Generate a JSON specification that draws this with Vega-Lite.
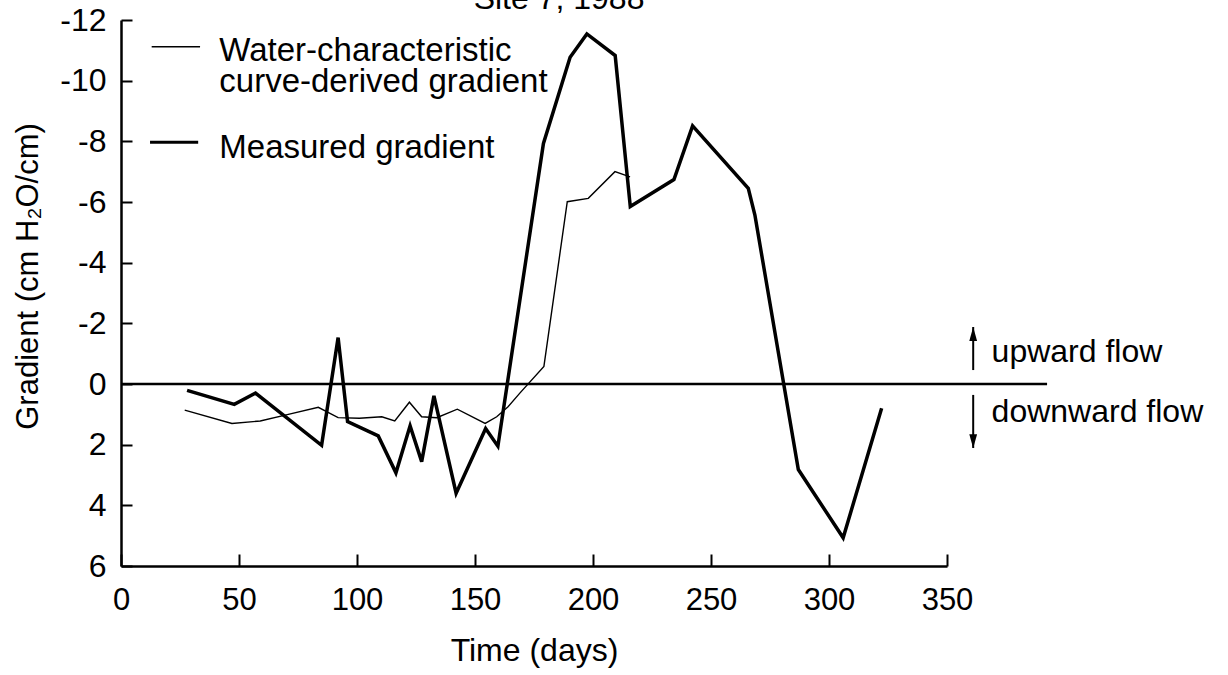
{
  "$schema": "https://vega.github.io/schema/vega-lite/v6.json",
  "width": 826,
  "height": 546,
  "autosize": {"type": "none"},
  "padding": {"left": 121, "top": 20, "right": 281, "bottom": 109},
  "background": "white",
  "config": {
    "view": {"stroke": null},
    "font": "Liberation Sans",
    "axis": {
      "domainColor": "black", "domainWidth": 2.5,
      "tickColor": "black", "tickWidth": 2,
      "labelColor": "black", "labelFontSize": 31, "labelFont": "Liberation Sans",
      "labelFlush": false, "labelOverlap": false,
      "titleFont": "Liberation Sans", "titleFontWeight": "normal", "titleColor": "black", "titleFontSize": 31,
      "grid": false
    }
  },
  "resolve": {"axis": {"x": "independent", "y": "independent"}},
  "datasets": {
    "series": [
      {"s": "meas", "day": 28, "g": 0.21},
      {"s": "meas", "day": 48, "g": 0.67},
      {"s": "meas", "day": 57, "g": 0.30},
      {"s": "meas", "day": 85, "g": 2.02},
      {"s": "meas", "day": 92, "g": -1.53},
      {"s": "meas", "day": 96, "g": 1.24},
      {"s": "meas", "day": 109, "g": 1.71},
      {"s": "meas", "day": 116.5, "g": 2.93},
      {"s": "meas", "day": 122.5, "g": 1.38},
      {"s": "meas", "day": 127.4, "g": 2.56},
      {"s": "meas", "day": 132.6, "g": 0.39},
      {"s": "meas", "day": 142, "g": 3.6},
      {"s": "meas", "day": 154.5, "g": 1.47},
      {"s": "meas", "day": 159.7, "g": 2.05},
      {"s": "meas", "day": 179, "g": -7.93},
      {"s": "meas", "day": 190.3, "g": -10.77},
      {"s": "meas", "day": 197.4, "g": -11.54},
      {"s": "meas", "day": 209.4, "g": -10.83},
      {"s": "meas", "day": 215.8, "g": -5.85},
      {"s": "meas", "day": 234.3, "g": -6.74},
      {"s": "meas", "day": 242.2, "g": -8.51},
      {"s": "meas", "day": 265.8, "g": -6.45},
      {"s": "meas", "day": 268.6, "g": -5.57},
      {"s": "meas", "day": 287, "g": 2.82},
      {"s": "meas", "day": 306, "g": 5.07},
      {"s": "meas", "day": 322.3, "g": 0.8},
      {"s": "wc", "day": 27, "g": 0.86},
      {"s": "wc", "day": 47, "g": 1.3},
      {"s": "wc", "day": 59, "g": 1.22},
      {"s": "wc", "day": 70, "g": 1.02},
      {"s": "wc", "day": 83.6, "g": 0.77},
      {"s": "wc", "day": 92, "g": 1.11},
      {"s": "wc", "day": 101, "g": 1.13},
      {"s": "wc", "day": 110.5, "g": 1.08},
      {"s": "wc", "day": 116, "g": 1.22},
      {"s": "wc", "day": 122.2, "g": 0.6},
      {"s": "wc", "day": 127.4, "g": 1.08},
      {"s": "wc", "day": 133.8, "g": 1.11},
      {"s": "wc", "day": 142.5, "g": 0.83},
      {"s": "wc", "day": 154.3, "g": 1.3},
      {"s": "wc", "day": 159.2, "g": 1.08},
      {"s": "wc", "day": 164, "g": 0.75},
      {"s": "wc", "day": 169, "g": 0.3},
      {"s": "wc", "day": 179.2, "g": -0.58},
      {"s": "wc", "day": 189.1, "g": -6.01},
      {"s": "wc", "day": 198, "g": -6.12},
      {"s": "wc", "day": 209.3, "g": -7.0},
      {"s": "wc", "day": 215.7, "g": -6.83}
    ],
    "legendLines": [
      {"s": "wc", "day": 13, "g": -11.12},
      {"s": "wc", "day": 33.5, "g": -11.12},
      {"s": "meas", "day": 12.3, "g": -7.97},
      {"s": "meas", "day": 32.7, "g": -7.97}
    ],
    "legendLabels": [
      {"day": 41.65, "g": -10.65, "t": "Water-characteristic"},
      {"day": 41.65, "g": -9.64, "t": "curve-derived gradient"},
      {"day": 41.65, "g": -7.44, "t": "Measured gradient"}
    ],
    "flowLabels": [
      {"day": 368.9, "g": -0.73, "t": "upward flow"},
      {"day": 368.9, "g": 1.25, "t": "downward flow"}
    ],
    "titleRow": [
      {"day": 185.6, "g": -12.36, "t": "Site 7, 1988"}
    ],
    "zeroLine": [
      {"day": 0, "day2": 392.4, "g": 0}
    ],
    "arrowShafts": [
      {"day": 361.1, "g": -1.88, "g2": -0.46},
      {"day": 361.1, "g": 0.36, "g2": 2.11}
    ],
    "arrowHeadsUp": [
      {"day": 361.1, "g": -1.59}
    ],
    "arrowHeadsDown": [
      {"day": 361.1, "g": 1.83}
    ]
  },
  "layer": [
    {
      "data": {"name": "zeroLine"},
      "mark": {"type": "rule", "color": "black", "strokeWidth": 2.5},
      "encoding": {
        "x": {
          "field": "day", "type": "quantitative",
          "scale": {"domain": [0, 350], "nice": false, "zero": false},
          "axis": {
            "orient": "bottom",
            "values": [0, 50, 100, 150, 200, 250, 300, 350],
            "ticks": false, "tickSize": 0,
            "title": "Time (days)",
            "titleFontSize": 32,
            "labelPadding": 19,
            "titleX": 413,
            "titleY": 84,
            "titleBaseline": "middle"
          }
        },
        "x2": {"field": "day2"},
        "y": {
          "field": "g", "type": "quantitative",
          "scale": {"domain": [-12, 6], "reverse": true, "nice": false, "zero": false},
          "axis": {
            "orient": "left",
            "values": [-12, -10, -8, -6, -4, -2, 0, 2, 4, 6],
            "labelExpr": "'' + datum.value",
            "labelFontSize": 32,
            "ticks": false, "tickSize": 0,
            "title": "Gradient (cm H₂O/cm)",
            "labelPadding": 15,
            "titleX": -93,
            "titleY": 256,
            "titleBaseline": "middle"
          }
        }
      }
    },
    {
      "data": {"name": "series"},
      "transform": [{"filter": "datum.s == 'wc'"}],
      "mark": {"type": "line", "color": "black", "strokeWidth": 1.4},
      "encoding": {
        "x": {
          "field": "day", "type": "quantitative",
          "axis": {
            "orient": "bottom", "offset": -12, "tickSize": 12,
            "values": [0, 50, 100, 150, 200, 250, 300, 350],
            "labels": false, "domain": false, "title": null
          }
        },
        "y": {
          "field": "g", "type": "quantitative",
          "axis": {
            "orient": "left", "offset": -11, "tickSize": 11,
            "values": [-12, -10, -8, -6, -4, -2, 0, 2, 4, 6],
            "labels": false, "domain": false, "title": null
          }
        }
      }
    },
    {
      "data": {"name": "series"},
      "transform": [{"filter": "datum.s == 'meas'"}],
      "mark": {"type": "line", "color": "black", "strokeWidth": 3.5, "strokeJoin": "miter"},
      "encoding": {
        "x": {"field": "day", "type": "quantitative", "axis": null},
        "y": {"field": "g", "type": "quantitative", "axis": null}
      }
    },
    {
      "data": {"name": "legendLines"},
      "mark": {"type": "line", "color": "black"},
      "encoding": {
        "x": {"field": "day", "type": "quantitative", "axis": null},
        "y": {"field": "g", "type": "quantitative", "axis": null},
        "detail": {"field": "s"},
        "strokeWidth": {"field": "s", "type": "nominal", "scale": {"domain": ["wc", "meas"], "range": [1.4, 3]}, "legend": null}
      }
    },
    {
      "data": {"name": "legendLabels"},
      "mark": {"type": "text", "align": "left", "baseline": "alphabetic", "fontSize": 33, "color": "black", "font": "Liberation Sans"},
      "encoding": {
        "x": {"field": "day", "type": "quantitative", "axis": null},
        "y": {"field": "g", "type": "quantitative", "axis": null},
        "text": {"field": "t"}
      }
    },
    {
      "data": {"name": "flowLabels"},
      "mark": {"type": "text", "align": "left", "baseline": "alphabetic", "fontSize": 32, "color": "black", "font": "Liberation Sans"},
      "encoding": {
        "x": {"field": "day", "type": "quantitative", "axis": null},
        "y": {"field": "g", "type": "quantitative", "axis": null},
        "text": {"field": "t"}
      }
    },
    {
      "data": {"name": "titleRow"},
      "mark": {"type": "text", "align": "center", "baseline": "alphabetic", "fontSize": 32, "color": "black", "font": "Liberation Sans"},
      "encoding": {
        "x": {"field": "day", "type": "quantitative", "axis": null},
        "y": {"field": "g", "type": "quantitative", "axis": null},
        "text": {"field": "t"}
      }
    },
    {
      "data": {"name": "arrowShafts"},
      "mark": {"type": "rule", "color": "black", "strokeWidth": 2},
      "encoding": {
        "x": {"field": "day", "type": "quantitative", "axis": null},
        "y": {"field": "g", "type": "quantitative", "axis": null},
        "y2": {"field": "g2"}
      }
    },
    {
      "data": {"name": "arrowHeadsUp"},
      "mark": {"type": "point", "shape": "M0,-1L0.45,0.6L-0.45,0.6Z", "filled": true, "color": "black", "opacity": 1, "size": 300},
      "encoding": {
        "x": {"field": "day", "type": "quantitative", "axis": null},
        "y": {"field": "g", "type": "quantitative", "axis": null}
      }
    },
    {
      "data": {"name": "arrowHeadsDown"},
      "mark": {"type": "point", "shape": "M0,1L0.45,-0.6L-0.45,-0.6Z", "filled": true, "color": "black", "opacity": 1, "size": 300},
      "encoding": {
        "x": {"field": "day", "type": "quantitative", "axis": null},
        "y": {"field": "g", "type": "quantitative", "axis": null}
      }
    }
  ]
}
